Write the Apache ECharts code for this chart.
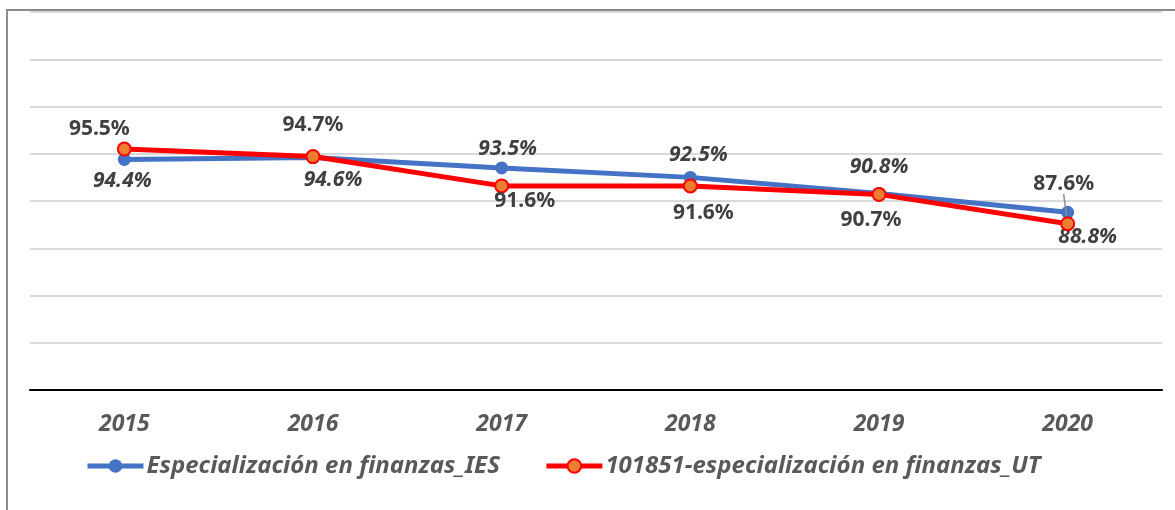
<!DOCTYPE html>
<html>
<head>
<meta charset="utf-8">
<script src="https://cdn.jsdelivr.net/npm/echarts@6/dist/echarts.min.js"></script>
<style>
    html, body { margin: 0; padding: 0; background: #fff; }
    #frame { position: absolute; left: 6px; top: 9px; width: 1175px; height: 520px;
        border-left: 2px solid #8c8c8c; border-top: 2px solid #8c8c8c; }
    #chart { position: absolute; left: 0; top: 0; width: 1175px; height: 510px; }
</style>
</head>
<body>
<div id="frame"></div>
<div id="chart"></div>
<script>
const years = ["2015", "2016", "2017", "2018", "2019", "2020"]
const iesName = "Especialización en finanzas_IES"
const utName = "101851-especialización en finanzas_UT"
const iesValues = [94.4, 94.6, 93.5, 92.5, 90.8, 88.8]
const utValues = [95.5, 94.7, 91.6, 91.6, 90.7, 87.6]

// label placement, px from each point (Excel placed them by hand)
const iesLabelShift = [[-2, 22], [20, 22], [6, -19], [8, -22], [0, -26], [20, 25]]
const utLabelShift = [[-25, -20], [0, -32], [23, 15], [13, 27], [-8, 26], [-4, -40]]

const fontFamily = "'Noto Sans', sans-serif"

let chartDom = document.getElementById('chart')
let myChart = echarts.init(chartDom, null, {renderer: 'canvas'})

function labelStyle(italic) {
    return {
        show: true,
        position: 'inside',
        formatter: (p) => p.value.toFixed(1) + '%',
        color: '#404040',
        fontFamily: fontFamily,
        fontWeight: 'bold',
        fontStyle: italic ? 'italic' : 'normal',
        fontSize: 21
    }
}

// only the last UT label has a leader line in the original
let utData = utValues.map((v, i) => ({
    value: v,
    labelLine: {show: i === utValues.length - 1}
}))

let option = {
    animation: false,
    grid: {left: 30, right: 13, top: 12, bottom: 120},
    legend: {
        left: 85,
        top: 454,
        padding: 0,
        itemWidth: 56,
        itemHeight: 17,
        itemGap: 44,
        lineStyle: {width: 5},
        textStyle: {
            color: '#595959',
            fontFamily: fontFamily,
            fontWeight: 'bold',
            fontStyle: 'italic',
            fontSize: 24,
            padding: [0, 0, 0, -2]
        },
        data: [iesName, utName]
    },
    xAxis: {
        type: 'category',
        data: years,
        boundaryGap: true,
        axisLine: {lineStyle: {color: '#000', width: 2}},
        axisTick: {show: false},
        axisLabel: {
            margin: 23,
            color: '#595959',
            fontFamily: fontFamily,
            fontWeight: 'bold',
            fontStyle: 'italic',
            fontSize: 23
        }
    },
    yAxis: {
        type: 'value',
        min: 70,
        max: 110,
        interval: 5,
        axisLabel: {show: false},
        axisLine: {show: false},
        axisTick: {show: false},
        splitLine: {lineStyle: {color: '#d9d9d9', width: 2}}
    },
    series: [
        {
            name: iesName,
            type: 'line',
            data: iesValues,
            symbol: 'circle',
            symbolSize: 13,
            lineStyle: {color: '#4472C4', width: 5},
            itemStyle: {color: '#4472C4'},
            label: labelStyle(true),
            labelLayout: (p) => ({dx: iesLabelShift[p.dataIndex][0], dy: iesLabelShift[p.dataIndex][1]}),
            z: 2
        },
        {
            name: utName,
            type: 'line',
            data: utData,
            symbol: 'circle',
            symbolSize: 13,
            lineStyle: {color: '#FF0000', width: 5},
            itemStyle: {color: '#ED7D31', borderColor: '#FF0000', borderWidth: 2},
            label: labelStyle(false),
            labelLayout: (p) => ({dx: utLabelShift[p.dataIndex][0], dy: utLabelShift[p.dataIndex][1]}),
            labelLine: {show: false, lineStyle: {color: '#8c8c8c', width: 1.5}},
            z: 3
        }
    ]
}

myChart.setOption(option)
</script>
</body>
</html>
